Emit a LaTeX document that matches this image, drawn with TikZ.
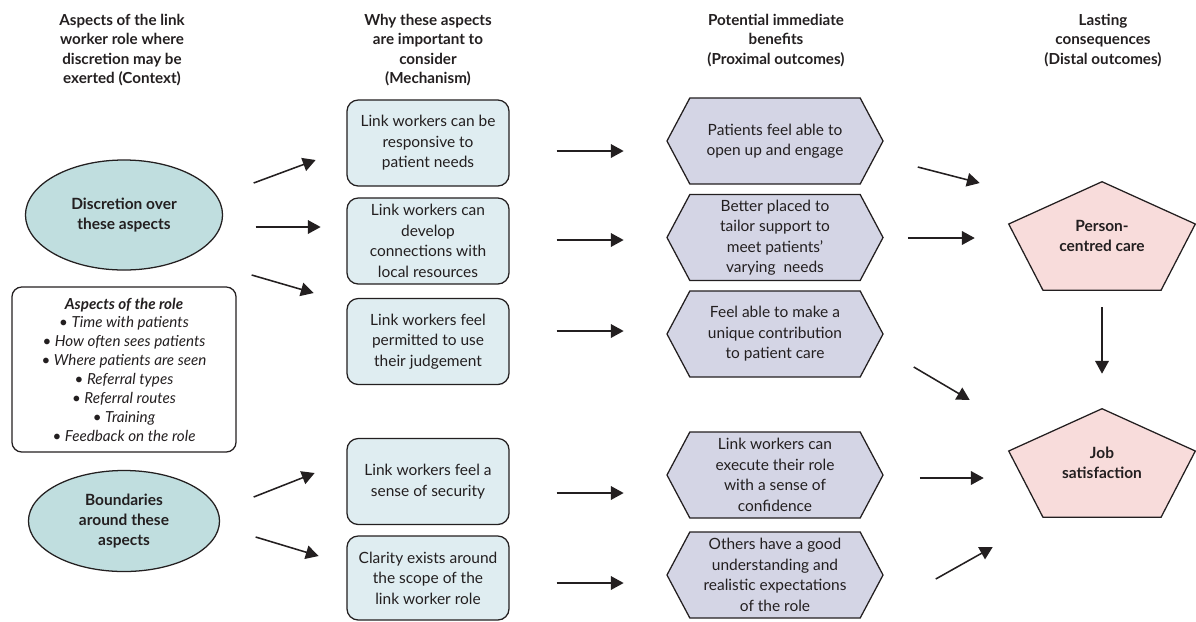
\documentclass[tikz,border=0pt]{standalone}
\usepackage{fontspec}
\setmainfont{Lato}
\usepackage{tikz}
\usetikzlibrary{arrows.meta,shapes.geometric,shapes.symbols,backgrounds}

\definecolor{ink}{HTML}{231F20}
\definecolor{ctxfill}{HTML}{C0DEDF}
\definecolor{mechfill}{HTML}{DFEDF1}
\definecolor{proxfill}{HTML}{D4D5E5}
\definecolor{distfill}{HTML}{F8DCDB}

\newcommand{\pentout}[1]{%
  \begin{pgfonlayer}{background}
    \filldraw[distline] (#1.north) -- ([yshift=0.3cm]#1.east) -- ([xshift=1.475cm]#1.south)
      -- ([xshift=-1.475cm]#1.south) -- ([yshift=0.3cm]#1.west) -- cycle;
  \end{pgfonlayer}}

\begin{document}
\begin{tikzpicture}[
  x=0.025cm,y=-0.025cm,
  font=\fontsize{11}{14.6}\selectfont,text=ink,
  head/.style={anchor=north,align=center,font=\fontsize{10.8}{13.8}\selectfont\bfseries},
  ctx/.style={ellipse,draw=ink,line width=0.9pt,fill=ctxfill,inner sep=0pt,align=center,
              font=\fontsize{11}{14.2}\selectfont\bfseries},
  aspbox/.style={draw=ink,line width=0.9pt,rounded corners=7pt,minimum width=5.6cm,
                 minimum height=4.125cm,align=center,font=\fontsize{10.8}{13.4}\selectfont\itshape},
  mech/.style={draw=ink,line width=0.9pt,rounded corners=8pt,fill=mechfill,minimum width=4.05cm,
               minimum height=2.15cm,align=center},
  prox/.style={signal,signal to=west and east,signal pointer angle=124,draw=ink,line width=0.9pt,
               fill=proxfill,minimum width=5.4cm,minimum height=2.15cm,align=center},
  dist/.style={minimum width=4.65cm,minimum height=2.7cm,align=center,
               font=\fontsize{11}{14.2}\selectfont\bfseries},
  distline/.style={draw=ink,fill=distfill,line width=0.9pt},
  arr/.style={-{Triangle[length=0.32cm,width=0.34cm]},line width=1.1pt,draw=ink}
]
\useasboundingbox (0,0) rectangle (1196,621);

\node[head] (hctx)  at (122,9)  {Aspects of the link\\worker role where\\discretion may be\\exerted (Context)};
\node[head] (hmech) at (428,9)  {Why these aspects\\are important to\\consider\\(Mechanism)};
\node[head] (hprox) at (776,9)  {Potential immediate\\benefits\\(Proximal outcomes)};
\node[head] (hdist) at (1103,9) {Lasting\\consequences\\(Distal outcomes)};

\node[ctx,minimum width=4.925cm,minimum height=2.75cm] (disc) at (124,215) {Discretion over\\these aspects};
\node[aspbox] (asp) at (124,369.5) {\textbf{Aspects of the role}\\\textbullet\ Time with patients\\
  \textbullet\ How often sees patients\\\textbullet\ Where patients are seen\\\textbullet\ Referral types\\
  \textbullet\ Referral routes\\\textbullet\ Training\\\textbullet\ Feedback on the role};
\node[ctx,minimum width=4.775cm,minimum height=2.525cm] (bound) at (124,521) {Boundaries\\around these\\aspects};

\node[mech] (m1) at (428,143)   {Link workers can be\\responsive to\\patient needs};
\node[mech] (m2) at (428,241)   {Link workers can\\develop\\connections with\\local resources};
\node[mech] (m3) at (428,341.5) {Link workers feel\\permitted to use\\their judgement};
\node[mech] (m4) at (428,481.5) {Link workers feel a\\sense of security};
\node[mech,minimum height=2.1cm] (m5) at (428,578) {Clarity exists around\\the scope of the\\link worker role};

\node[prox] (p1) at (775,141)   {Patients feel able to\\open up and engage};
\node[prox] (p2) at (775,237.5) {Better placed to\\tailor support to\\meet patients’\\varying\ \ needs};
\node[prox] (p3) at (775,334)   {Feel able to make a\\unique contribution\\to patient care};
\node[prox] (p4) at (775,475)   {Link workers can\\execute their role\\with a sense of\\confidence};
\node[prox] (p5) at (775,575)   {Others have a good\\understanding and\\realistic expectations\\of the role};

\node[dist] (pcc) at (1102,236) {Person-\\centred care};
\node[dist] (jsat) at (1102,463) {Job\\satisfaction};
\pentout{pcc}
\pentout{jsat}

\draw[arr] (disc.east) ++(30.5,-32) -- ++(62,-23);
\draw[arr] (disc.east) ++(32.5,12) -- ++(65,0);
\draw[arr] (disc.east) ++(28.5,60) -- ++(62,18);
\draw[arr] (bound.east) ++(33.5,-24) -- ++(61,-24);
\draw[arr] (bound.east) ++(35.5,16) -- ++(63,19);

\draw[arr] (m1.east) ++(47,8) -- ++(67,0);
\draw[arr] (m2.east) ++(47,-1) -- ++(67,0);
\draw[arr] (m3.east) ++(47,-10.5) -- ++(67,0);
\draw[arr] (m4.east) ++(47,11.5) -- ++(67,0);
\draw[arr] (m5.east) ++(47,5) -- ++(67,0);

\draw[arr] (p1.east) ++(34,26) -- ++(62,16);
\draw[arr] (p2.east) ++(24,0.5) -- ++(67,0);
\draw[arr] (p3.east) ++(30,33) -- ++(56,33);
\draw[arr] (p4.east) ++(36,3) -- ++(64,0);
\draw[arr] (p5.east) ++(52,4) -- ++(57,-32);
\draw[arr,shorten <=0.425cm,shorten >=0.875cm] (pcc) -- (jsat);
\end{tikzpicture}
\end{document}
